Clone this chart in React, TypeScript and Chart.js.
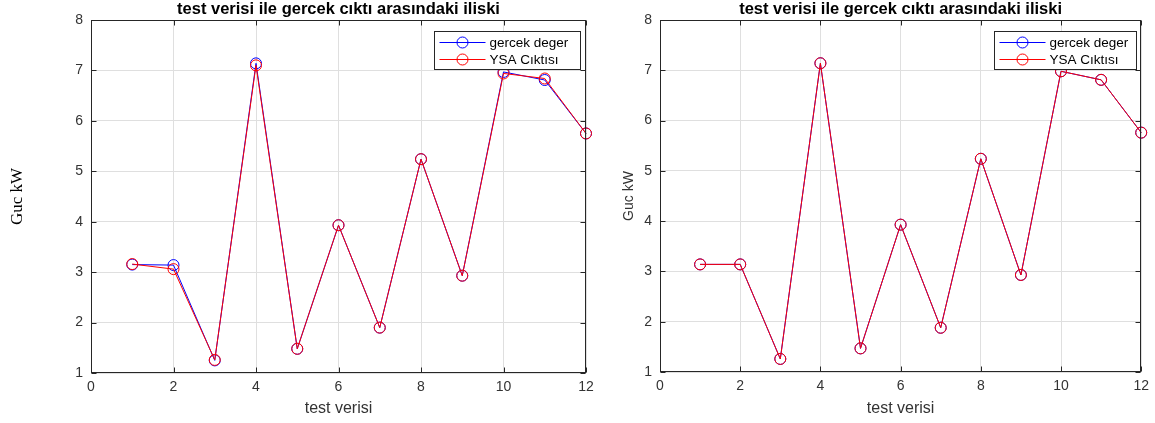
import React, { useEffect, useRef } from 'react';
import { Chart, registerables } from 'chart.js';

Chart.register(...registerables);

// ---- data ----
const testIndex = [1, 2, 3, 4, 5, 6, 7, 8, 9, 10, 11, 12];
const leftActual = [3.15, 3.14, 1.25, 7.14, 1.48, 3.93, 1.9, 5.24, 2.93, 6.97, 6.81, 5.75];
const leftPredicted = [3.16, 3.06, 1.26, 7.1, 1.48, 3.93, 1.9, 5.24, 2.93, 6.94, 6.84, 5.75];
const rightActual = [3.14, 3.14, 1.26, 7.14, 1.47, 3.93, 1.88, 5.24, 2.93, 6.98, 6.81, 5.76];
const rightPredicted = [3.14, 3.14, 1.26, 7.14, 1.47, 3.93, 1.88, 5.24, 2.93, 6.98, 6.81, 5.76];
const xTickValues = [0, 2, 4, 6, 8, 10, 12];
const yTickValues = [1, 2, 3, 4, 5, 6, 7, 8];
const chartTitle = 'test verisi ile gercek cıktı arasındaki iliski';
const seriesLabels = ['gercek deger', 'YSA Cıktısı'];
const xAxisTitle = 'test verisi';
const yAxisTitle = 'Guc kW';

const SANS = 'Arial, "Liberation Sans", Helvetica, sans-serif';
const AXIS_COLOR = '#262626';
const TICK_COLOR = '#333333';
const GRID_COLOR = '#dfdfdf';
const BLUE = '#0000ff';
const RED = '#ff0000';

type PanelProps = {
  left: number;
  width: number;
  actual: number[];
  predicted: number[];
  padRight: number;
  yWidth: number;
  xHeight: number;
  yTitleFont: any;
  yTitleColor: string;
  yTitlePad: number;
  legendRightOffset: number;
  legendWidth: number;
};

const decorPlugin = {
  id: 'matlabDecor',
  afterDraw(chart: any, _args: any, opts: any) {
    const { ctx, chartArea } = chart;
    const xs = chart.scales.x;
    const ys = chart.scales.y;
    const L = Math.round(chartArea.left) + 0.5;
    const R = Math.round(chartArea.right) - 0.5;
    const T = Math.round(chartArea.top) + 0.5;
    const B = Math.round(chartArea.bottom) - 0.5;
    ctx.save();
    // tick marks (inward, all four sides)
    ctx.strokeStyle = AXIS_COLOR;
    ctx.lineWidth = 1;
    ctx.beginPath();
    const tl = 5;
    xTickValues.forEach((v) => {
      const px = Math.round(xs.getPixelForValue(v)) + 0.5;
      ctx.moveTo(px, B);
      ctx.lineTo(px, B - tl);
      ctx.moveTo(px, T);
      ctx.lineTo(px, T + tl);
    });
    yTickValues.forEach((v) => {
      const py = Math.round(ys.getPixelForValue(v)) + 0.5;
      ctx.moveTo(L, py);
      ctx.lineTo(L + tl, py);
      ctx.moveTo(R, py);
      ctx.lineTo(R - tl, py);
    });
    ctx.stroke();
    // box
    ctx.strokeRect(L, T, R - L, B - T);

    // title
    ctx.fillStyle = '#000000';
    ctx.font = `bold 16.5px ${SANS}`;
    ctx.textAlign = 'center';
    ctx.textBaseline = 'middle';
    ctx.fillText(chartTitle, (chartArea.left + chartArea.right) / 2, 9);

    // legend
    const bw = opts.legendWidth;
    const bx = Math.round(chartArea.right - opts.legendRightOffset) + 0.5;
    const by = Math.round(chartArea.top + 11) + 0.5;
    const bh = 38;
    ctx.fillStyle = '#ffffff';
    ctx.fillRect(bx, by, bw, bh);
    ctx.strokeStyle = AXIS_COLOR;
    ctx.lineWidth = 1;
    ctx.strokeRect(bx, by, bw, bh);
    const colors = [BLUE, RED];
    seriesLabels.forEach((label, i) => {
      const cy = by + 11 + i * 17;
      const x1 = bx + 5;
      const x2 = bx + 51;
      ctx.strokeStyle = colors[i];
      ctx.beginPath();
      ctx.moveTo(x1, cy);
      ctx.lineTo(x2, cy);
      ctx.stroke();
      ctx.beginPath();
      ctx.arc((x1 + x2) / 2, cy, 5.5, 0, Math.PI * 2);
      ctx.stroke();
      ctx.fillStyle = '#000000';
      ctx.font = `13.5px ${SANS}`;
      ctx.textAlign = 'left';
      ctx.textBaseline = 'middle';
      ctx.fillText(label, bx + 55, cy + 0.5);
    });
    ctx.restore();
  },
};

function Panel(props: PanelProps) {
  const ref = useRef<HTMLCanvasElement | null>(null);
  useEffect(() => {
    if (!ref.current) return;
    const makePoints = (vals: number[]) => testIndex.map((x, i) => ({ x, y: vals[i] }));
    const common = {
      backgroundColor: 'rgba(0,0,0,0)',
      borderWidth: 1,
      pointRadius: 5.5,
      pointBorderWidth: 1,
      pointBackgroundColor: 'rgba(0,0,0,0)',
      tension: 0,
      clip: false as any,
    };
    const chart = new Chart(ref.current, {
      type: 'line',
      data: {
        datasets: [
          {
            ...common,
            label: seriesLabels[1],
            data: makePoints(props.predicted),
            borderColor: RED,
            pointBorderColor: RED,
            order: 0,
          },
          {
            ...common,
            label: seriesLabels[0],
            data: makePoints(props.actual),
            borderColor: BLUE,
            pointBorderColor: BLUE,
            order: 1,
          },
        ],
      },
      options: {
        responsive: false,
        animation: false,
        events: [],
        layout: { padding: { top: 20, right: props.padRight, left: 0, bottom: 0 } },
        plugins: {
          legend: { display: false },
          title: { display: false },
          tooltip: { enabled: false },
          matlabDecor: {
            legendRightOffset: props.legendRightOffset,
            legendWidth: props.legendWidth,
          },
        } as any,
        scales: {
          x: {
            type: 'linear',
            min: 0,
            max: 12,
            afterBuildTicks: (scale: any) => {
              scale.ticks = xTickValues.map((v) => ({ value: v }));
            },
            afterFit: (scale: any) => {
              scale.height = props.xHeight;
            },
            grid: { color: GRID_COLOR, lineWidth: 1, drawTicks: false },
            border: { display: false },
            ticks: {
              padding: 6,
              color: TICK_COLOR,
              font: { family: SANS, size: 14 },
              maxRotation: 0,
            },
            title: {
              display: true,
              text: xAxisTitle,
              color: TICK_COLOR,
              font: { family: SANS, size: 16 },
              padding: { top: 0, bottom: 5 },
            },
          },
          y: {
            type: 'linear',
            min: 1,
            max: 8,
            afterBuildTicks: (scale: any) => {
              scale.ticks = yTickValues.map((v) => ({ value: v }));
            },
            afterFit: (scale: any) => {
              scale.width = props.yWidth;
            },
            grid: { color: GRID_COLOR, lineWidth: 1, drawTicks: false },
            border: { display: false },
            ticks: {
              padding: 8,
              color: TICK_COLOR,
              font: { family: SANS, size: 14 },
            },
            title: {
              display: true,
              text: yAxisTitle,
              color: props.yTitleColor,
              font: props.yTitleFont,
              padding: { top: props.yTitlePad, bottom: 0 },
            },
          },
        },
      },
      plugins: [decorPlugin],
    });
    return () => chart.destroy();
  }, []);
  return (
    <canvas
      ref={ref}
      width={props.width}
      height={423}
      style={{ position: 'absolute', left: props.left, top: 0, width: props.width, height: 423 }}
    />
  );
}

export default function App() {
  return (
    <div style={{ position: 'absolute', left: 0, top: 0, width: 1155, height: 423, background: '#ffffff' }}>
      <Panel
        left={0}
        width={600}
        actual={leftActual}
        predicted={leftPredicted}
        padRight={14}
        yWidth={91}
        xHeight={50}
        yTitleFont={{ family: '"Liberation Serif", "Times New Roman", serif', size: 17, style: 'normal', weight: 'normal' }}
        yTitleColor="#000000"
        yTitlePad={7}
        legendRightOffset={152}
        legendWidth={146}
      />
      <Panel
        left={600}
        width={555}
        actual={rightActual}
        predicted={rightPredicted}
        padRight={13}
        yWidth={60}
        xHeight={51}
        yTitleFont={{ family: 'Arial', size: 14, style: 'normal', weight: 'normal' }}
        yTitleColor={TICK_COLOR}
        yTitlePad={21}
        legendRightOffset={147}
        legendWidth={142}
      />
    </div>
  );
}
